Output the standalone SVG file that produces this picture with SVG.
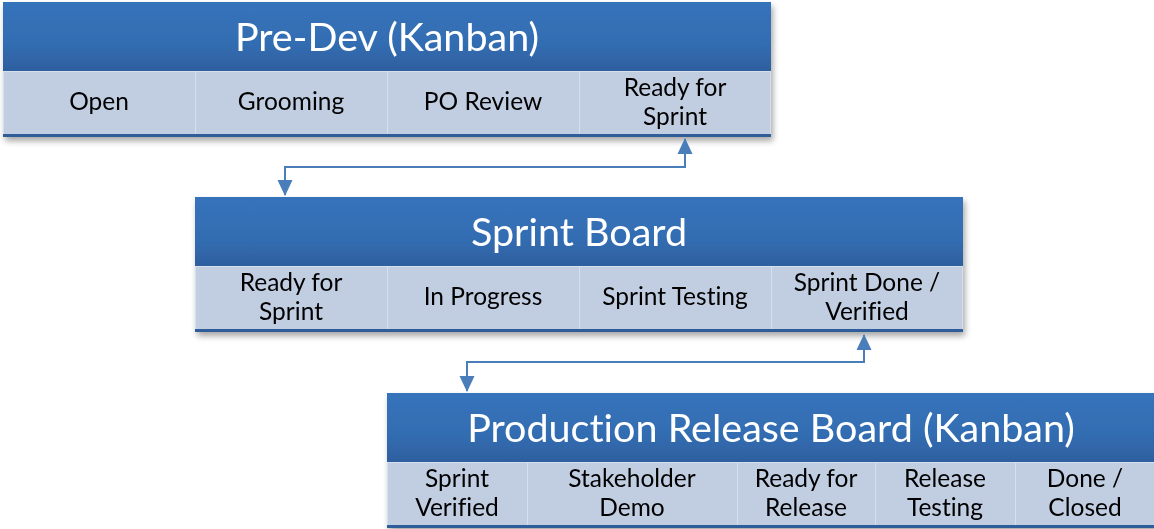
<svg xmlns="http://www.w3.org/2000/svg" width="1154" height="529" viewBox="0 0 1154 529">
  <defs>
    <linearGradient id="hdr" x1="0" y1="0" x2="0" y2="1">
      <stop offset="0" stop-color="#3673bb"/>
      <stop offset="0.6" stop-color="#336db2"/>
      <stop offset="1" stop-color="#2e5f9f"/>
    </linearGradient>
    <filter id="shadow" x="-5%" y="-10%" width="110%" height="130%">
      <feGaussianBlur in="SourceAlpha" stdDeviation="3"/>
      <feOffset dx="2" dy="4" result="b"/>
      <feComponentTransfer><feFuncA type="linear" slope="0.35"/></feComponentTransfer>
      <feMerge><feMergeNode/><feMergeNode in="SourceGraphic"/></feMerge>
    </filter>
    <marker id="arrow" viewBox="0 0 16 16" refX="15" refY="8" markerWidth="16" markerHeight="16" markerUnits="userSpaceOnUse" orient="auto">
      <path d="M0,0.5 L16,8 L0,15.5 Z" fill="#4a7ebb"/>
    </marker>
  </defs>
  <style>
    .hdr { fill: url(#hdr); }
    .cell { fill: #c1cde1; stroke: #d6dfec; stroke-width: 1; }
    .base { fill: #2f5d9a; }
    text { font-family: Lato, "Liberation Sans", sans-serif; text-anchor: middle; font-variant-ligatures: none; }
    .title { font-size: 39.5px; fill: #ffffff; }
    .lbl { font-size: 24.5px; fill: #000000; }
    .conn { fill: none; stroke: #4a7ebb; stroke-width: 2; }
  </style>

  <!-- Pre-Dev board -->
  <g id="pre-dev" transform="translate(3,2)" filter="url(#shadow)">
    <rect class="hdr" x="0" y="0" width="768" height="69"/>
    <rect class="cell" x="0.5" y="69.5" width="192" height="63"/>
    <rect class="cell" x="192.5" y="69.5" width="192" height="63"/>
    <rect class="cell" x="384.5" y="69.5" width="192" height="63"/>
    <rect class="cell" x="576.5" y="69.5" width="191" height="63"/>
    <rect class="base" x="0" y="132" width="768" height="3"/>
    <text class="title" x="384" y="49">Pre-Dev (Kanban)</text>
    <text class="lbl" x="96" y="108">Open</text>
    <text class="lbl" x="288" y="108">Grooming</text>
    <text class="lbl" x="480" y="108">PO Review</text>
    <text class="lbl" x="672" y="94">Ready for</text>
    <text class="lbl" x="672" y="123">Sprint</text>
  </g>

  <!-- Sprint board -->
  <g id="sprint" transform="translate(195,197)" filter="url(#shadow)">
    <rect class="hdr" x="0" y="0" width="768" height="69"/>
    <rect class="cell" x="0.5" y="69.5" width="192" height="63"/>
    <rect class="cell" x="192.5" y="69.5" width="192" height="63"/>
    <rect class="cell" x="384.5" y="69.5" width="192" height="63"/>
    <rect class="cell" x="576.5" y="69.5" width="191" height="63"/>
    <rect class="base" x="0" y="132" width="768" height="3"/>
    <text class="title" x="384" y="49">Sprint Board</text>
    <text class="lbl" x="96" y="94">Ready for</text>
    <text class="lbl" x="96" y="123">Sprint</text>
    <text class="lbl" x="288" y="108">In Progress</text>
    <text class="lbl" x="480" y="108">Sprint Testing</text>
    <text class="lbl" x="672" y="94">Sprint Done /</text>
    <text class="lbl" x="672" y="123">Verified</text>
  </g>

  <!-- Production release board -->
  <g id="release" transform="translate(387,393)" filter="url(#shadow)">
    <rect class="hdr" x="0" y="0" width="770" height="69"/>
    <rect class="cell" x="0.5" y="69.5" width="140" height="63"/>
    <rect class="cell" x="140.5" y="69.5" width="210" height="63"/>
    <rect class="cell" x="350.5" y="69.5" width="138" height="63"/>
    <rect class="cell" x="488.5" y="69.5" width="140" height="63"/>
    <rect class="cell" x="628.5" y="69.5" width="141" height="63"/>
    <rect class="base" x="0" y="132" width="770" height="3"/>
    <text class="title" x="384" y="49">Production Release Board (Kanban)</text>
    <text class="lbl" x="70" y="94">Sprint</text>
    <text class="lbl" x="70" y="123">Verified</text>
    <text class="lbl" x="245" y="94">Stakeholder</text>
    <text class="lbl" x="245" y="123">Demo</text>
    <text class="lbl" x="419" y="94">Ready for</text>
    <text class="lbl" x="419" y="123">Release</text>
    <text class="lbl" x="558" y="94">Release</text>
    <text class="lbl" x="558" y="123">Testing</text>
    <text class="lbl" x="698" y="94">Done /</text>
    <text class="lbl" x="698" y="123">Closed</text>
  </g>

  <!-- Connectors between boards -->
  <g id="connectors">
    <path class="conn" d="M285,167 L685,167 L685,139" marker-end="url(#arrow)"/>
    <path class="conn" d="M685,167 L285,167 L285,195" marker-end="url(#arrow)"/>
    <path class="conn" d="M467,362 L864,362 L864,335" marker-end="url(#arrow)"/>
    <path class="conn" d="M864,362 L467,362 L467,391" marker-end="url(#arrow)"/>
  </g>
</svg>
